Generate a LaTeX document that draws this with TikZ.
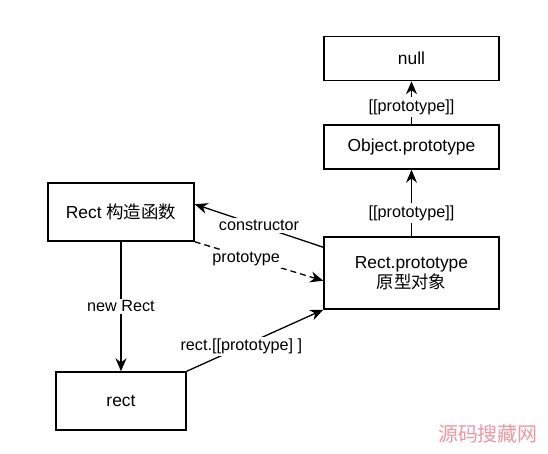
\documentclass[tikz,border=0pt]{standalone}
\usepackage{fontspec}
\setmainfont{Liberation Sans}
\newfontfamily\cjk{Noto Sans CJK SC}
\usetikzlibrary{arrows.meta}
\definecolor{wmark}{RGB}{238,150,162}

\begin{document}
\begin{tikzpicture}[x=0.5pt,y=-0.5pt,
  objbox/.style={draw, line width=0.75pt, inner sep=0pt, align=center, font=\fontsize{8.7}{10}\selectfont},
  link/.style={line width=0.65pt, -{Stealth[length=6.5pt,width=5.5pt]}},
  lbl/.style={fill=white, inner sep=1pt, font=\fontsize{8.1}{9}\selectfont}]
\useasboundingbox (0,0) rectangle (548,454);

\node[objbox, minimum width=87.5pt, minimum height=22pt] (null) at (411.5,58.5) {null};
\node[objbox, minimum width=87.5pt, minimum height=22pt] (objproto) at (411.5,147) {Object.prototype};
\node[objbox, minimum width=87.5pt, minimum height=36pt] (rectproto) at (411.5,273) {Rect.prototype\\{\cjk 原型对象}};
\node[objbox, minimum width=73pt, minimum height=29pt] (ctor) at (121,212) {Rect {\cjk 构造函数}};
\node[objbox, minimum width=65pt, minimum height=29pt] (rect) at (121,401) {rect};

\draw[link] (ctor.south) -- node[lbl]{new Rect} (rect.north);
\draw[link] (rect.north east) -- node[lbl, pos=0.4]{rect.[[prototype] ]} (rectproto.south west);
\draw[link] ([yshift=-5.5pt]rectproto.north west) -- node[lbl]{constructor} ([yshift=-11pt]ctor.north east);
\draw[link, dash pattern=on 3pt off 2pt] (ctor.south east) -- node[lbl, pos=0.4, yshift=-1pt]{prototype} ([yshift=14.5pt]rectproto.south west);
\draw[link] (rectproto.north) -- node[lbl, pos=0.35]{[[prototype]]} (objproto.south);
\draw[link] (objproto.north) -- node[lbl, pos=0.4]{[[prototype]]} (null.south);

\node[text=wmark, font=\cjk\fontsize{10}{12}\selectfont] (wm) at (488,434) {源码搜藏网};
\end{tikzpicture}
\end{document}
